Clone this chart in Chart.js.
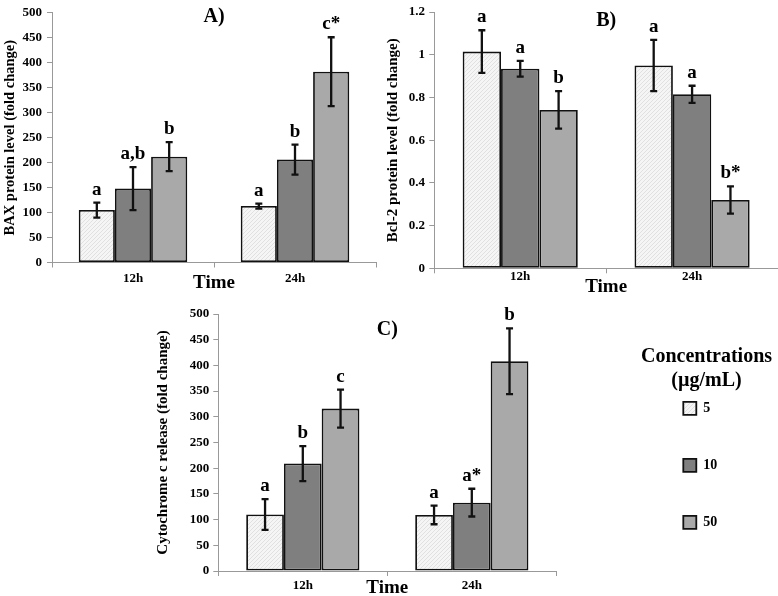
<!DOCTYPE html>
<html>
<head>
<meta charset="utf-8">
<script src="https://cdn.jsdelivr.net/npm/chart.js@4.4.0/dist/chart.umd.min.js"></script>
<style>
html,body{margin:0;padding:0;background:#fff;}
body{width:778px;height:596px;position:relative;overflow:hidden;}
canvas{position:absolute;}
</style>
</head>
<body>
<canvas id="cA" width="390" height="300" style="left:0px;top:0px"></canvas>
<canvas id="cB" width="398" height="300" style="left:380px;top:0px"></canvas>
<canvas id="cC" width="638" height="300" style="left:140px;top:296px"></canvas>
<script>
// ---------- DATA ----------
const categories = ['12h', '24h'];
const concentrations = ['5', '10', '50'];
const xAxisTitle = 'Time';
const legendTitle = ['Concentrations', '(µg/mL)'];

// A) BAX protein level (fold change)
const baxTitle = 'BAX protein level (fold change)';
const baxTicks = [0, 50, 100, 150, 200, 250, 300, 350, 400, 450, 500];
const baxTickLabels = ['0', '50', '100', '150', '200', '250', '300', '350', '400', '450', '500'];
const bax5 = [105, 113];
const bax10 = [148, 206];
const bax50 = [212, 382];
const baxErr5 = [15, 5];
const baxErr10 = [43, 30];
const baxErr50 = [29, 69];
const baxLetters5 = ['a', 'a'];
const baxLetters10 = ['a,b', 'b'];
const baxLetters50 = ['b', 'c*'];

// B) Bcl-2 protein level (fold change)
const bclTitle = 'Bcl-2 protein level (fold change)';
const bclTicks = [0, 0.2, 0.4, 0.6, 0.8, 1, 1.2];
const bclTickLabels = ['0', '0.2', '0.4', '0.6', '0.8', '1', '1.2'];
const bcl5 = [1.015, 0.95];
const bcl10 = [0.935, 0.815];
const bcl50 = [0.742, 0.32];
const bclErr5 = [0.1, 0.12];
const bclErr10 = [0.037, 0.04];
const bclErr50 = [0.088, 0.064];
const bclLetters5 = ['a', 'a'];
const bclLetters10 = ['a', 'a'];
const bclLetters50 = ['b', 'b*'];

// C) Cytochrome c release (fold change)
const cytTitle = 'Cytochrome c release (fold change)';
const cytTicks = [0, 50, 100, 150, 200, 250, 300, 350, 400, 450, 500];
const cytTickLabels = ['0', '50', '100', '150', '200', '250', '300', '350', '400', '450', '500'];
const cyt5 = [110, 109];
const cyt10 = [209, 133];
const cyt50 = [316, 408];
const cytErr5 = [30, 18];
const cytErr10 = [34, 27];
const cytErr50 = [37, 64];
const cytLetters5 = ['a', 'a'];
const cytLetters10 = ['b', 'a*'];
const cytLetters50 = ['c', 'b'];

// ---------- STYLE ----------
Chart.defaults.font.family = '"Liberation Serif", "Times New Roman", serif';
Chart.defaults.font.weight = 'bold';
Chart.defaults.color = '#000';

function hatchPattern() {
  const c = document.createElement('canvas');
  c.width = 4; c.height = 4;
  const g = c.getContext('2d');
  g.fillStyle = '#f5f5f5'; g.fillRect(0, 0, 4, 4);
  g.fillStyle = '#e0e0e0';
  g.fillRect(0, 0, 1, 1); g.fillRect(2, 2, 1, 1);
  g.fillRect(1, 3, 1, 1); g.fillRect(3, 1, 1, 1);
  return g.createPattern(c, 'repeat');
}
const fills = [hatchPattern(), '#7f7f7f', '#a9a9a9'];

function makeDatasets(values, errors, letters) {
  return concentrations.map((c, i) => ({
    label: c,
    data: values[i],
    errors: errors[i],
    letters: letters[i],
    backgroundColor: fills[i],
    borderColor: '#111',
    borderWidth: 1.8,
    borderSkipped: false,
    categoryPercentage: 0.67,
    barPercentage: 1.0
  }));
}

const errorBarPlugin = {
  id: 'errorBars',
  afterDatasetsDraw(chart) {
    const ctx = chart.ctx;
    const ys = chart.scales.y;
    chart.data.datasets.forEach((ds, i) => {
      const meta = chart.getDatasetMeta(i);
      meta.data.forEach((bar, j) => {
        const v = ds.data[j], e = ds.errors[j];
        const yt = ys.getPixelForValue(v + e);
        const yb = ys.getPixelForValue(v - e);
        const x = bar.x;
        ctx.save();
        ctx.strokeStyle = '#111';
        ctx.lineWidth = 2.3;
        ctx.beginPath();
        ctx.moveTo(x, yt); ctx.lineTo(x, yb);
        ctx.moveTo(x - 3.5, yt); ctx.lineTo(x + 3.5, yt);
        ctx.moveTo(x - 3.5, yb); ctx.lineTo(x + 3.5, yb);
        ctx.stroke();
        ctx.fillStyle = '#000';
        ctx.font = 'bold 19px "Liberation Serif", "Times New Roman", serif';
        ctx.textAlign = 'center';
        ctx.textBaseline = 'alphabetic';
        ctx.fillText(ds.letters[j], x, yt - 8);
        ctx.restore();
      });
    });
  }
};

function buildChart(id, o) {
  return new Chart(document.getElementById(id), {
    type: 'bar',
    data: { labels: categories, datasets: o.datasets },
    options: {
      responsive: false,
      animation: false,
      devicePixelRatio: 1,
      layout: { padding: o.padding },
      scales: {
        x: {
          grid: { display: true, drawOnChartArea: false, drawTicks: true, tickLength: 5, color: '#999', offset: true },
          border: { display: true, color: '#999', width: 1 },
          ticks: { color: '#000', font: { size: 13, weight: 'bold' }, padding: o.xTickPad },
          title: { display: true, text: xAxisTitle, color: '#000', font: { size: 19, weight: 'bold' }, padding: { top: 0, bottom: o.xTitlePad } },
          afterFit: s => { s.height = o.xHeight; }
        },
        y: {
          min: o.ticks[0],
          max: o.ticks[o.ticks.length - 1],
          afterBuildTicks: s => { s.ticks = o.ticks.map(v => ({ value: v })); },
          ticks: { color: '#000', font: { size: 13, weight: 'bold' }, padding: o.yTickPad, callback: (v, i) => o.tickLabels[i] },
          grid: { drawOnChartArea: false, drawTicks: true, tickLength: 5, color: '#999' },
          border: { display: true, color: '#999', width: 1 },
          title: { display: true, text: o.yTitle, color: '#000', font: { size: o.yTitleSize, weight: 'bold' }, padding: { top: o.yTitlePad, bottom: 0 } },
          afterFit: s => { s.width = o.yWidth; }
        }
      },
      plugins: {
        legend: o.legend || { display: false },
        tooltip: { enabled: false },
        title: {
          display: true, text: o.panel, fullSize: false, position: 'top', color: '#000',
          font: { size: 20, weight: 'bold', lineHeight: 1.2 },
          padding: { top: o.panelPad, bottom: -24 - o.panelPad }
        }
      }
    },
    plugins: [errorBarPlugin].concat(o.extraPlugins || [])
  });
}

// A
buildChart('cA', {
  datasets: makeDatasets([bax5, bax10, bax50], [baxErr5, baxErr10, baxErr50], [baxLetters5, baxLetters10, baxLetters50]),
  padding: { left: 0, top: 11, right: 14, bottom: 0 },
  ticks: baxTicks, tickLabels: baxTickLabels,
  yTitle: baxTitle, yTitleSize: 14.5, yTitlePad: 1.3, yWidth: 52, yTickPad: 5,
  xHeight: 37.5, xTickPad: 3.7, xTitlePad: 5.6,
  panel: 'A)', panelPad: -8
});

// B
buildChart('cB', {
  datasets: makeDatasets([bcl5, bcl10, bcl50], [bclErr5, bclErr10, bclErr50], [bclLetters5, bclLetters10, bclLetters50]),
  padding: { left: 0, top: 7, right: 0, bottom: 0 },
  ticks: bclTicks, tickLabels: bclTickLabels,
  yTitle: bclTitle, yTitleSize: 15, yTitlePad: 4, yWidth: 54.3, yTickPad: 4.3,
  xHeight: 31.7, xTickPad: -4.4, xTitlePad: 1.9,
  panel: 'B)', panelPad: -3
});

// C (with legend)
const legendPlacer = {
  id: 'legendPlacer',
  afterLayout(chart) {
    const lg = chart.legend;
    if (!lg) return;
    lg.left = 500.3;
    lg.top = 51;
    lg.width = 132.4;
    lg.right = lg.left + lg.width;
    lg.bottom = 300;
    lg.height = lg.bottom - lg.top;
  }
};

buildChart('cC', {
  datasets: makeDatasets([cyt5, cyt10, cyt50], [cytErr5, cytErr10, cytErr50], [cytLetters5, cytLetters10, cytLetters50]),
  padding: { left: 0, top: 18, right: 141.7, bottom: 0 },
  ticks: cytTicks, tickLabels: cytTickLabels,
  yTitle: cytTitle, yTitleSize: 15, yTitlePad: 14, yWidth: 78.3, yTickPad: 4,
  xHeight: 25, xTickPad: 2.2, xTitlePad: -3.4,
  panel: 'C)', panelPad: 4,
  legend: {
    display: true, position: 'right', align: 'start', maxWidth: 80,
    labels: { boxWidth: 13, boxHeight: 13, padding: 43, color: '#000', font: { size: 14, weight: 'bold' } },
    title: { display: true, text: legendTitle, position: 'center', color: '#000', font: { size: 20, weight: 'bold', lineHeight: 1.2 }, padding: { top: 0, bottom: -12.7 } }
  },
  extraPlugins: [legendPlacer]
});
</script>
</body>
</html>
